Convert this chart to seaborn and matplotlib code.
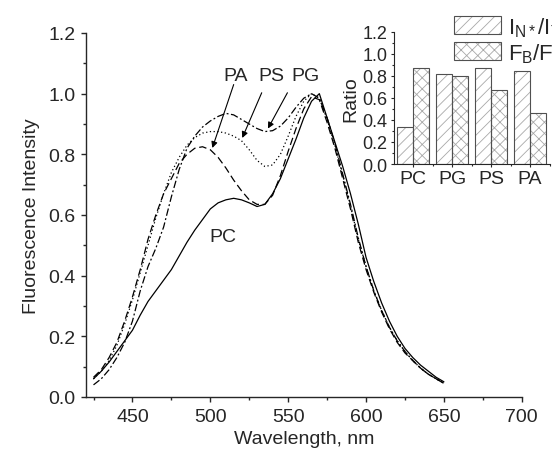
"""
Fluorescence spectra of the probe in PC/PG/PS/PA vesicles, with ratio inset.
"""

import matplotlib
matplotlib.use('Agg')
import matplotlib.pyplot as plt
from matplotlib.patches import Patch, Rectangle
from matplotlib.legend_handler import HandlerTuple
from matplotlib.ticker import MultipleLocator
import seaborn as sns
import pandas as pd


# Spectra (normalised) on a 5 nm grid
wavelength = list(range(425, 651, 5))

pc = [0.06, 0.085, 0.115, 0.15, 0.185, 0.22, 0.27, 0.315, 0.35, 0.385,
      0.42, 0.465, 0.51, 0.55, 0.585, 0.62, 0.64, 0.65, 0.655, 0.65,
      0.64, 0.628, 0.635, 0.67, 0.72, 0.785, 0.85, 0.92, 0.975, 1.0,
      0.92, 0.84, 0.76, 0.67, 0.57, 0.46, 0.38, 0.31, 0.25, 0.20,
      0.16, 0.13, 0.105, 0.085, 0.065, 0.05]

pa = [0.065, 0.09, 0.13, 0.18, 0.25, 0.33, 0.42, 0.52, 0.60, 0.67,
      0.72, 0.77, 0.80, 0.82, 0.825, 0.815, 0.79, 0.755, 0.715, 0.68,
      0.65, 0.635, 0.635, 0.665, 0.73, 0.81, 0.885, 0.95, 0.99, 0.98,
      0.905, 0.82, 0.72, 0.62, 0.51, 0.42, 0.345, 0.28, 0.225, 0.18,
      0.145, 0.12, 0.095, 0.075, 0.06, 0.045]

ps = [0.06, 0.085, 0.12, 0.17, 0.24, 0.32, 0.41, 0.50, 0.59, 0.67,
      0.74, 0.79, 0.83, 0.855, 0.87, 0.875, 0.875, 0.87, 0.86, 0.845,
      0.815, 0.78, 0.76, 0.765, 0.80, 0.86, 0.925, 0.975, 1.0, 0.985,
      0.915, 0.83, 0.73, 0.63, 0.52, 0.43, 0.35, 0.285, 0.23, 0.185,
      0.15, 0.12, 0.095, 0.075, 0.06, 0.045]

pg = [0.04, 0.06, 0.09, 0.13, 0.18, 0.25, 0.35, 0.43, 0.49, 0.56,
      0.66, 0.75, 0.82, 0.86, 0.89, 0.91, 0.925, 0.935, 0.93, 0.915,
      0.90, 0.885, 0.875, 0.878, 0.893, 0.92, 0.955, 0.985, 1.0, 0.985,
      0.92, 0.835, 0.735, 0.635, 0.525, 0.43, 0.35, 0.285, 0.23, 0.185,
      0.15, 0.12, 0.095, 0.075, 0.06, 0.045]

# Inset: ratios per lipid
lipids = ['PC', 'PG', 'PS', 'PA']
ratio_nt = [0.333, 0.818, 0.87, 0.848]   # I_N*/I_T*
ratio_bf = [0.87, 0.797, 0.673, 0.467]   # F_B/F_F
ratio_names = [r'I$_{\mathregular{N*}}$/I$_{\mathregular{T*}}$',
               r'F$_{\mathregular{B}}$/F$_{\mathregular{F}}$']


sns.set_style("ticks")
plt.rcParams['font.family'] = ['Liberation Sans', 'DejaVu Sans']
plt.rcParams['mathtext.fontset'] = 'custom'
plt.rcParams['mathtext.rm'] = 'Liberation Sans'
plt.rcParams['mathtext.it'] = 'Liberation Sans:italic'
plt.rcParams['hatch.linewidth'] = 0.6

fig = plt.figure(figsize=(5.52, 4.6), dpi=100)
ax = fig.add_axes([0.1553, 0.1348, 0.790, 0.7913])

styles = [(pc, '-'), (pa, (0, (6, 3))), (ps, (0, (1, 2))),
          (pg, (0, (6, 2, 1.5, 2)))]
for values, ls in styles:
    sns.lineplot(x=wavelength, y=values, ax=ax, color='black',
                 linewidth=0.9, linestyle=ls)

ax.set_xlim(420, 700)
ax.set_ylim(0, 1.2)
ax.xaxis.set_major_locator(MultipleLocator(50))
ax.xaxis.set_minor_locator(MultipleLocator(25))
ax.yaxis.set_major_locator(MultipleLocator(0.2))
ax.yaxis.set_minor_locator(MultipleLocator(0.1))
ax.yaxis.set_major_formatter(lambda v, pos: f'{v:.1f}')
ax.tick_params(which='major', direction='out', length=3.6, width=1,
               labelsize=14, pad=4)
ax.tick_params(which='minor', direction='out', length=2.2, width=1)
ax.set_xlabel('Wavelength, nm', fontsize=14, labelpad=4)
ax.set_ylabel('Fluorescence Intensity', fontsize=14, labelpad=6)
sns.despine(ax=ax)
for s in ['left', 'bottom']:
    ax.spines[s].set_linewidth(1.0)

# Curve labels and arrows
ax.text(508, 0.528, 'PC', fontsize=14, ha='center', va='center')
for name, tx, tip, start in [('PA', 516, (501.3, 0.821), (515, 1.03)),
                             ('PS', 539, (520.5, 0.854), (533, 1.003)),
                             ('PG', 561, (537, 0.885), (549.5, 1.003))]:
    ax.text(tx, 1.06, name, fontsize=14, ha='center', va='center')
    ax.annotate('', xy=tip, xytext=start,
                arrowprops=dict(arrowstyle='-|>', color='black', lw=0.8,
                                mutation_scale=9, shrinkA=0, shrinkB=0))

# Inset bar chart
ins = fig.add_axes([0.7129, 0.6413, 0.2826, 0.2870])
bars = pd.DataFrame({
    'lipid': lipids * 2,
    'ratio': ratio_nt + ratio_bf,
    'kind': [ratio_names[0]] * 4 + [ratio_names[1]] * 4,
})
hatches = ['///', 'xxx']
hatch_grey = '#a8a8a8'
edge_grey = '#505050'
sns.barplot(data=bars, x='lipid', y='ratio', hue='kind', ax=ins,
            width=0.82, palette=['white', 'white'], errorbar=None,
            legend=False)
# seaborn bars become the dark outline, a hatched copy sits underneath
for p in list(ins.patches):
    xc = p.get_x() + p.get_width() / 2
    k = 0 if xc < round(xc) else 1
    ins.add_patch(Rectangle(p.get_xy(), p.get_width(), p.get_height(),
                            facecolor='white', edgecolor=hatch_grey,
                            hatch=hatches[k], lw=0, zorder=0.8))
    p.set_facecolor('none')
    p.set_edgecolor(edge_grey)
    p.set_linewidth(0.8)
    p.set_zorder(1)

ins.set_xlim(-0.5, 3.5)
ins.set_ylim(0, 1.2)
ins.yaxis.set_major_locator(MultipleLocator(0.2))
ins.yaxis.set_minor_locator(MultipleLocator(0.1))
ins.yaxis.set_major_formatter(lambda v, pos: f'{v:.1f}')
ins.set_xticks([0, 1, 2, 3], minor=False)
ins.set_xticks([0.5, 1.5, 2.5, 3.5], minor=True)
ins.tick_params(which='major', direction='out', length=2.5, width=0.8, pad=2)
ins.tick_params(which='minor', direction='out', length=1.5, width=0.8)
ins.tick_params(axis='y', labelsize=13)
ins.tick_params(axis='x', labelsize=14)
ins.set_xlabel('')
ins.set_ylabel('Ratio', fontsize=14, labelpad=2)
ins.patch.set_alpha(0)
sns.despine(ax=ins)
for s in ['left', 'bottom']:
    ins.spines[s].set_linewidth(0.8)

handles = [(Patch(facecolor='white', edgecolor=hatch_grey, hatch=h, lw=0),
            Patch(facecolor='none', edgecolor=edge_grey, lw=0.8))
           for h in hatches]
fig.legend(handles, ratio_names, loc='upper left',
           bbox_to_anchor=(0.8225, 0.965), frameon=False, fontsize=16,
           handlelength=2.1, handleheight=0.86, handletextpad=0.33,
           labelspacing=0.1, borderpad=0, borderaxespad=0,
           handler_map={tuple: HandlerTuple(ndivide=1, pad=0)})

fig.savefig('out.png', dpi=100)
